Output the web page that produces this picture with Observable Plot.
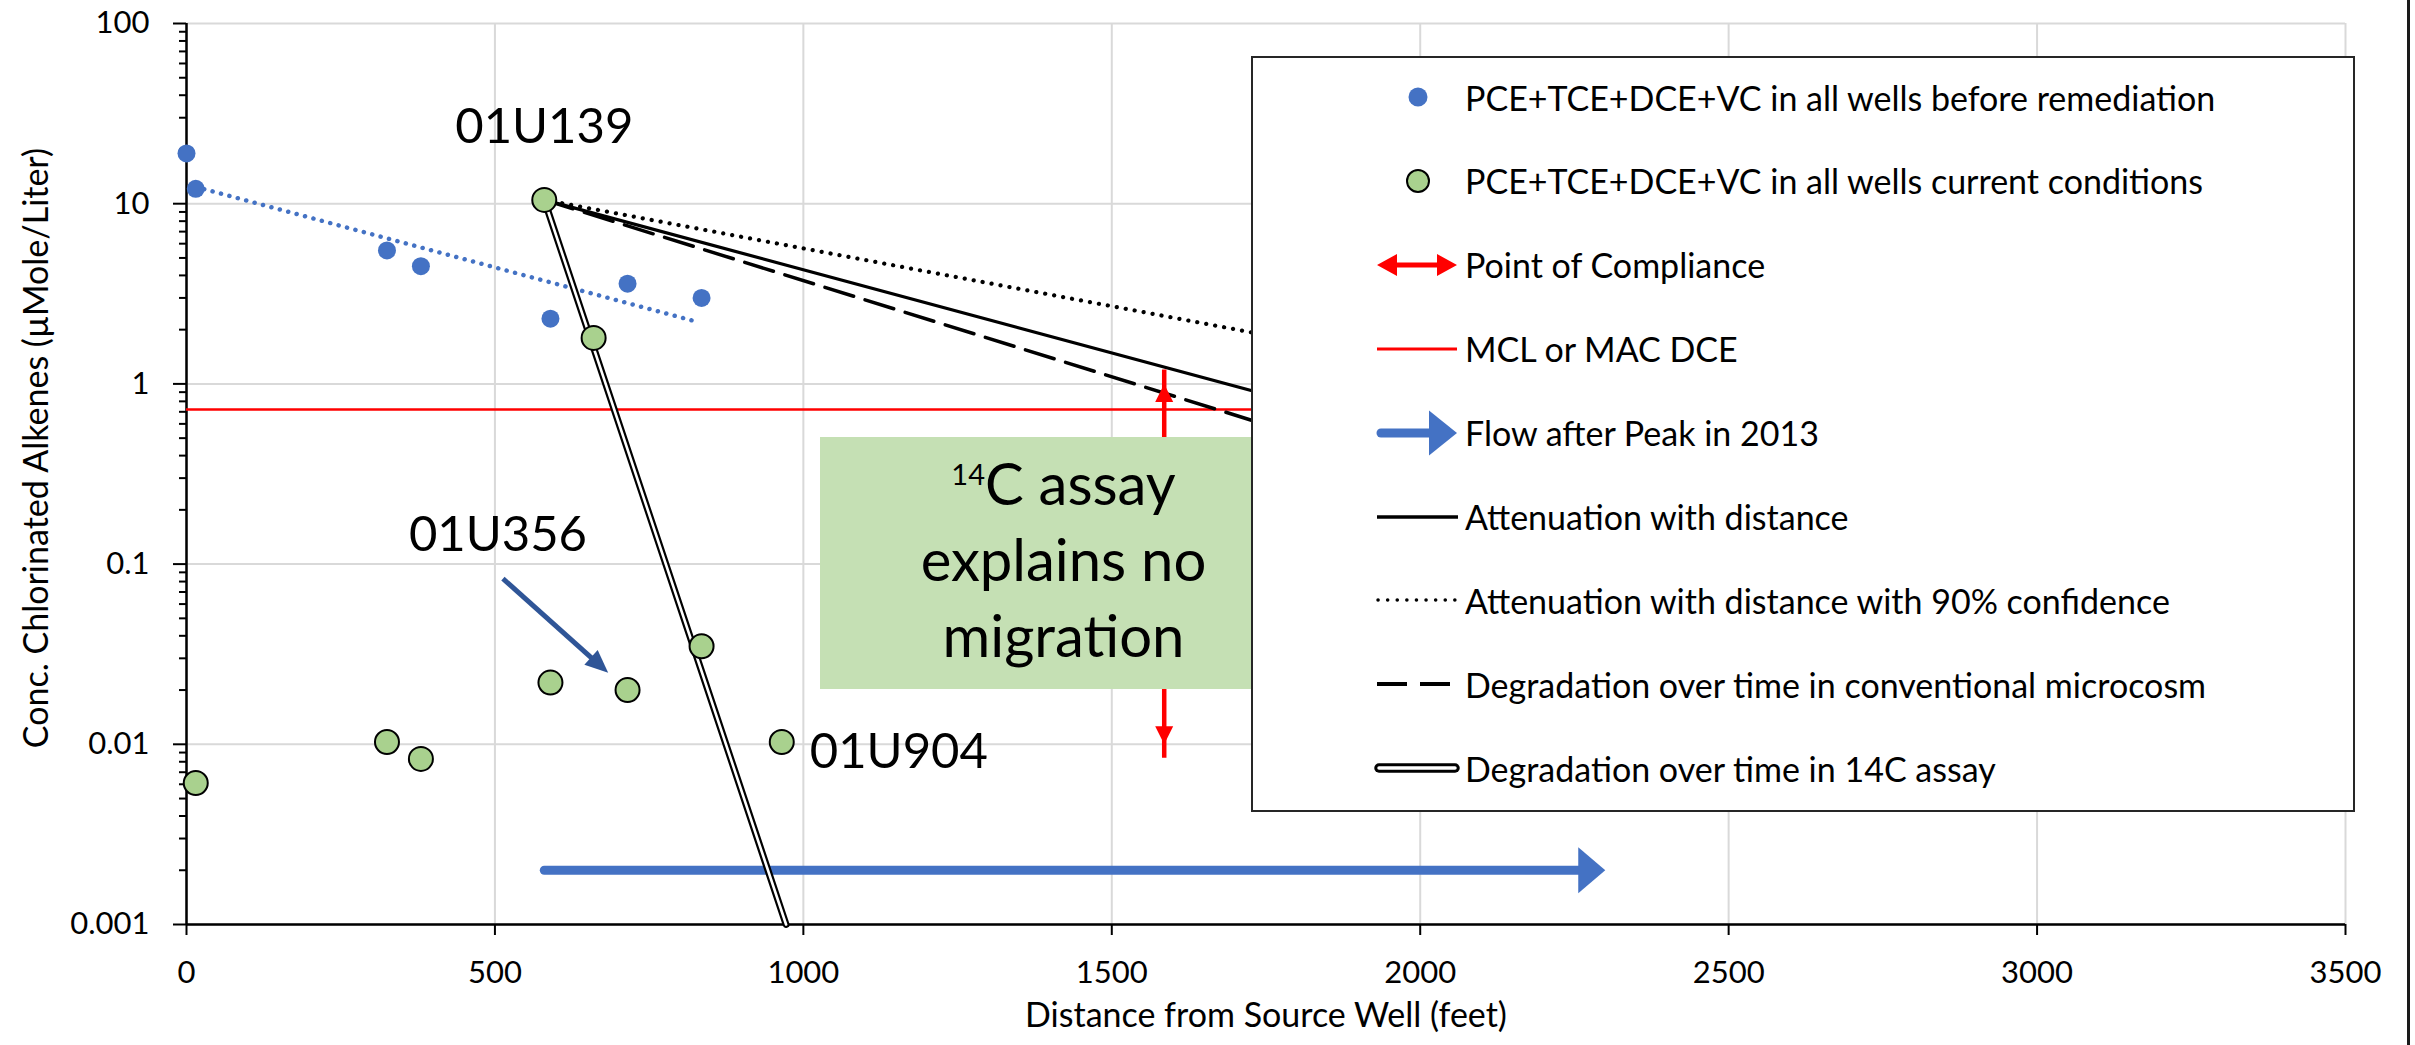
<!DOCTYPE html>
<html>
<head>
<meta charset="utf-8">
<title>Chlorinated alkenes versus distance from source well</title>
<script src="https://cdn.jsdelivr.net/npm/d3@7"></script>
<script src="https://cdn.jsdelivr.net/npm/@observablehq/plot@0.6"></script>
<style>
  html, body { margin: 0; padding: 0; background: #fff; }
  #chart { position: relative; width: 2415px; height: 1045px; overflow: hidden; font-family: Lato, sans-serif; color: #000; }
  #chart > svg { position: absolute; left: 0; top: 0; }
  .edge { position: absolute; left: 2407px; top: 0; width: 3px; height: 1045px; background: #1a1a1a; }
  .note { position: absolute; left: 820px; top: 437px; width: 487px; height: 252px; box-sizing: border-box;
          padding-top: 8px; background: #C5E0B4; text-align: center; font-size: 58px; line-height: 76px; }
  .note sup { font-size: 29px; vertical-align: 20px; line-height: 0; }
  .legend { position: absolute; left: 1251px; top: 56px; width: 1104px; height: 756px; box-sizing: border-box;
            border: 2px solid #262626; background: #fff; }
  .legend .row { position: absolute; left: 0; height: 60px; display: flex; align-items: center; }
  .legend .row svg { display: block; margin-left: 118px; }
  .legend .row span { margin-left: 4px; font-size: 34px; white-space: nowrap; }
</style>
</head>
<body>
<div id="chart"></div>
<script>
// Wells before remediation (blue dots)
const beforeX = [0, 15, 325, 380, 590, 715, 835];
const beforeY = [19, 12.1, 5.5, 4.5, 2.3, 3.6, 3.0];

// Wells under current conditions (green circles)
const currentX = [15, 325, 380, 580, 590, 660, 715, 835, 965];
const currentY = [0.0061, 0.0103, 0.0083, 10.5, 0.022, 1.8, 0.020, 0.035, 0.0103];

// Exponential trend of the pre-remediation wells
const trendX = [15, 830];
const trendY = [12.4, 2.2];

// Projections starting at 01U139
const projectionX = [580, 2000];
const attenuationY = [10.5, 0.513];   // attenuation with distance
const confidence90Y = [10.5, 1.29];   // attenuation with distance, 90% confidence
const microcosmY = [10.5, 0.321];     // degradation over time, conventional microcosm
const assayX = [580, 972];
const assayY = [10.5, 0.001];         // degradation over time, 14C assay

// Reference values
const mcl = 0.72;                                   // MCL or MAC for DCE
const compliance = {x: 1585, low: 0.01, high: 1};   // point of compliance
const flow = {x1: 580, x2: 2300, y: 0.002};         // flow after peak in 2013

// Well annotations
const wellLabels = [
  {well: "01U139", x: 580, y: 10.5},
  {well: "01U904", x: 965, y: 0.0103}
];
const pointer = {well: "01U356", x1: 513, y1: 0.083, x2: 715, y2: 0.020};

// Axis ticks
const xTicks = [0, 500, 1000, 1500, 2000, 2500, 3000, 3500];
const yTicks = [0.001, 0.01, 0.1, 1, 10, 100];
const yMinor = yTicks.slice(0, -1).flatMap(d => d3.range(2, 10).map(k => +(k * d).toPrecision(3)));

const legendItems = [
  {kind: "before", label: "PCE+TCE+DCE+VC in all wells before remediation"},
  {kind: "current", label: "PCE+TCE+DCE+VC in all wells current conditions"},
  {kind: "compliance", label: "Point of Compliance"},
  {kind: "mcl", label: "MCL or MAC DCE"},
  {kind: "flow", label: "Flow after Peak in 2013"},
  {kind: "attenuation", label: "Attenuation with distance"},
  {kind: "confidence", label: "Attenuation with distance with 90% confidence"},
  {kind: "microcosm", label: "Degradation over time in conventional microcosm"},
  {kind: "assay", label: "Degradation over time in 14C assay"}
];

const BLUE = "#4472C4", GREEN = "#A9D18E", DARKBLUE = "#2F5597", RED = "#FF0000", GRID = "#D9D9D9";

const pairs = (xs, ys) => xs.map((x, i) => ({x, y: ys[i]}));
const before = pairs(beforeX, beforeY);
const current = pairs(currentX, currentY);
const trend = pairs(trendX, trendY);
const attenuation = pairs(projectionX, attenuationY);
const confidence90 = pairs(projectionX, confidence90Y);
const microcosm = pairs(projectionX, microcosmY);
const assay = pairs(assayX, assayY);

// Filled arrowhead pointing right; its tip sits `inset` px behind the anchor point
const arrowHead = (ratio, inset = 0) => ({
  draw(context, size) {
    const r = Math.sqrt(size / Math.PI);
    context.moveTo(-inset, 0);
    context.lineTo(-inset - ratio * r, -r);
    context.lineTo(-inset - ratio * r, r);
    context.closePath();
  }
});

function build(pointerAngle) {
  return Plot.plot({
    width: 2415,
    height: 1045,
    marginLeft: 186,
    marginRight: 70,
    marginTop: 23,
    marginBottom: 121,
    style: {fontFamily: "Lato, sans-serif", fontSize: "31px", color: "#000", background: "transparent"},
    x: {domain: [0, 3500], label: null},
    y: {type: "log", domain: [0.001, 100], label: null},
    marks: [
      Plot.gridX({ticks: xTicks, stroke: GRID, strokeOpacity: 1, strokeWidth: 2}),
      Plot.gridY({ticks: yTicks, stroke: GRID, strokeOpacity: 1, strokeWidth: 2}),
      Plot.axisY({ticks: yMinor, tickSize: 7, tickFormat: () => "", stroke: "#000", strokeWidth: 2, label: null}),
      Plot.axisY({ticks: yTicks, tickSize: 13, tickPadding: 24, tickFormat: d3.format("~g"),
                  fontSize: 31, stroke: "#000", strokeWidth: 2, label: null}),
      Plot.axisX({ticks: xTicks, tickSize: 11, tickPadding: 25, tickFormat: d3.format("d"),
                  fontSize: 31, stroke: "#000", strokeWidth: 2, label: null}),
      Plot.ruleX([0], {stroke: "#000", strokeWidth: 2.5}),
      Plot.ruleY([0.001], {stroke: "#000", strokeWidth: 2.5}),

      // MCL
      Plot.ruleY([mcl], {stroke: RED, strokeWidth: 2.5}),

      // Flow after peak
      Plot.arrow([flow], {x1: "x1", x2: "x2", y1: "y", y2: "y", headLength: 0, insetEnd: 22,
                          stroke: BLUE, strokeWidth: 9, strokeLinecap: "round"}),
      Plot.dot([flow], {x: "x2", y: "y", r: 23, symbol: arrowHead(27 / 23), fill: BLUE, stroke: null}),

      // Trend and projections
      Plot.line(trend, {x: "x", y: "y", stroke: BLUE, strokeWidth: 4.5, strokeDasharray: "0.1 8.6", strokeLinecap: "round"}),
      Plot.line(confidence90, {x: "x", y: "y", stroke: "#000", strokeWidth: 4.2, strokeDasharray: "0.1 9", strokeLinecap: "round"}),
      Plot.line(microcosm, {x: "x", y: "y", stroke: "#000", strokeWidth: 3.5, strokeDasharray: "30 12"}),
      Plot.line(attenuation, {x: "x", y: "y", stroke: "#000", strokeWidth: 3.2}),
      Plot.line(assay, {x: "x", y: "y", stroke: "#000", strokeWidth: 7}),
      Plot.line(assay, {x: "x", y: "y", stroke: "#fff", strokeWidth: 2.6}),

      // Point of compliance
      Plot.ruleX([compliance], {x: "x", y1: "low", y2: "high", insetTop: 14, insetBottom: 14, stroke: RED, strokeWidth: 4.5}),
      Plot.dot([compliance], {x: "x", y: "high", r: 9, symbol: arrowHead(2), rotate: -90, fill: RED, stroke: null}),
      Plot.dot([compliance], {x: "x", y: "low", r: 9, symbol: arrowHead(2), rotate: 90, fill: RED, stroke: null}),

      // Wells
      Plot.dot(before, {x: "x", y: "y", r: 9, fill: BLUE, stroke: null}),
      Plot.dot(current, {x: "x", y: "y", r: 12, fill: GREEN, stroke: "#000", strokeWidth: 2}),

      // Well annotations
      Plot.arrow([pointer], {x1: "x1", y1: "y1", x2: "x2", y2: "y2", insetEnd: 42, headLength: 0,
                             stroke: DARKBLUE, strokeWidth: 5, strokeLinecap: "butt"}),
      Plot.dot([pointer], {x: "x2", y: "y2", r: 10, symbol: arrowHead(2.3, 26), rotate: pointerAngle,
                           fill: DARKBLUE, stroke: null}),
      Plot.text([pointer], {x: "x1", y: "y1", text: "well", dx: -5, dy: -43, fontSize: 49, fill: "#000"}),
      Plot.text([wellLabels[0]], {x: "x", y: "y", text: "well", dy: -73, fontSize: 49, fill: "#000"}),
      Plot.text([wellLabels[1]], {x: "x", y: "y", text: "well", dx: 28, dy: 10, textAnchor: "start", fontSize: 49, fill: "#000"}),

      // Axis titles
      Plot.text(["Distance from Source Well (feet)"], {frameAnchor: "bottom", dy: 102, fontSize: 34, fill: "#000"}),
      Plot.text(["Conc. Chlorinated Alkenes (µMole/Liter)"], {frameAnchor: "left", textAnchor: "middle", lineAnchor: "middle",
                                                             dx: -149, dy: -26, rotate: -90, fontSize: 34, fill: "#000"})
    ]
  });
}

// Screen-space direction of the 01U356 pointer, from the plot's own scales
function toPixel(scale, v) {
  if (typeof scale.apply === "function") return scale.apply(v);
  const s = scale.type === "log" ? d3.scaleLog() : d3.scaleLinear();
  return s.domain(scale.domain).range(scale.range)(v);
}
const probe = build(0);
const sx = probe.scale("x"), sy = probe.scale("y");
const pointerAngle = Math.atan2(
  toPixel(sy, pointer.y2) - toPixel(sy, pointer.y1),
  toPixel(sx, pointer.x2) - toPixel(sx, pointer.x1)
) * 180 / Math.PI;

const plot = build(pointerAngle);
const chart = document.getElementById("chart");
chart.appendChild(plot);

// Text box annotation
const note = document.createElement("div");
note.className = "note";
note.innerHTML = "<sup>14</sup>C assay<br>explains no<br>migration";
chart.appendChild(note);

// Legend
function swatch(kind) {
  const s = d3.create("svg").attr("width", 90).attr("height", 50).attr("viewBox", "0 0 90 50");
  const line = (x1, x2, stroke, width, extra = {}) => {
    const l = s.append("line").attr("x1", x1).attr("x2", x2).attr("y1", 25).attr("y2", 25)
      .attr("stroke", stroke).attr("stroke-width", width);
    for (const [k, v] of Object.entries(extra)) l.attr(k, v);
  };
  switch (kind) {
    case "before":
      s.append("circle").attr("cx", 47).attr("cy", 25).attr("r", 9.5).attr("fill", BLUE);
      break;
    case "current":
      s.append("circle").attr("cx", 47).attr("cy", 25).attr("r", 11).attr("fill", GREEN)
        .attr("stroke", "#000").attr("stroke-width", 2);
      break;
    case "compliance":
      line(22, 70, RED, 5);
      s.append("path").attr("d", "M6,25L26,14L26,36Z M86,25L66,14L66,36Z").attr("fill", RED);
      break;
    case "mcl":
      line(6, 86, RED, 3);
      break;
    case "flow":
      line(10, 62, BLUE, 9, {"stroke-linecap": "round"});
      s.append("path").attr("d", "M86,25L58,2.5L58,47.5Z").attr("fill", BLUE);
      break;
    case "attenuation":
      line(6, 87, "#000", 3.5);
      break;
    case "confidence":
      line(7, 87, "#000", 3.5, {"stroke-dasharray": "0.1 9.5", "stroke-linecap": "round"});
      break;
    case "microcosm":
      line(6, 86, "#000", 4, {"stroke-dasharray": "30 13"});
      break;
    case "assay":
      line(8, 84, "#000", 9.5, {"stroke-linecap": "round"});
      line(8, 84, "#fff", 3.5, {"stroke-linecap": "round"});
      break;
  }
  return s.node();
}

const legend = document.createElement("div");
legend.className = "legend";
const firstRowCenter = 39, rowGap = 83.9;
legendItems.forEach((item, i) => {
  const row = document.createElement("div");
  row.className = "row";
  row.style.top = `${firstRowCenter + i * rowGap - 30}px`;
  row.appendChild(swatch(item.kind));
  const span = document.createElement("span");
  span.textContent = item.label;
  row.appendChild(span);
  legend.appendChild(row);
});
chart.appendChild(legend);

const edge = document.createElement("div");
edge.className = "edge";
chart.appendChild(edge);
</script>
</body>
</html>
